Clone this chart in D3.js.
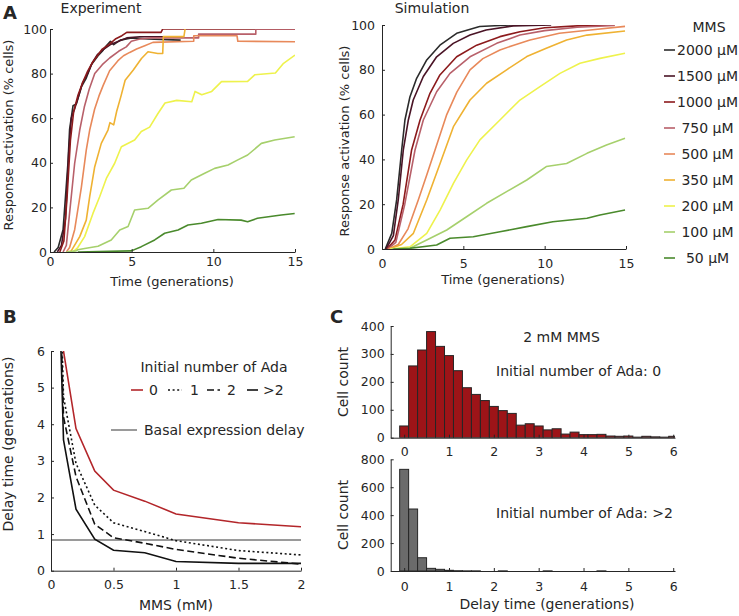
<!DOCTYPE html>
<html><head><meta charset="utf-8">
<script src="https://cdn.jsdelivr.net/npm/d3@7"></script>
<style>
body{margin:0;background:#fff}
svg{display:block}
text{font-family:"DejaVu Sans",Verdana,sans-serif;fill:#262626}
</style>
</head><body>
<svg id="c" width="739" height="616"></svg>
<script>
// ---------------- DATA ----------------
const mmsLabels = ["2000 μM", "1500 μM", "1000 μM", "750 μM", "500 μM", "350 μM", "200 μM", "100 μM", "50 μM"];
const mmsColors = ["#2b2b2b", "#4a1426", "#8c1a1c", "#b8606a", "#e8895a", "#efb232", "#eef24c", "#a6d06c", "#4a8a2c"];

// Experiment: [time (generations), response activation (%)]
const exp2000 = [[0.25,0],[0.5,2],[0.8,10],[1.1,40],[1.2,55],[1.41,65.6],[1.61,66.4],[1.92,74],[2.22,78],[2.53,84],[2.94,88],[3.2,90],[3.45,92.5],[3.7,94.5],[3.9,93],[4.3,95],[4.98,96],[6,95.5],[8,95]];
const exp1500 = [[0.45,0],[0.7,3],[0.95,15],[1.15,45],[1.3,60],[1.5,64],[1.75,70],[2.0,76],[2.3,80],[2.6,85],[2.9,88.5],[3.3,91],[3.7,93],[4.2,94.5],[4.7,96],[5.5,96.5],[7.5,96.5]];
const exp1000 = [[0.6,0],[0.85,5],[1.05,25],[1.25,50],[1.45,63],[1.7,70],[2.0,76],[2.3,81],[2.6,85],[2.9,88],[3.2,91],[3.6,93],[4.0,95.5],[4.4,97],[4.7,98.5],[6.8,98.5],[6.9,100],[15,100]];
const exp750 = [[0.8,0],[1.0,3],[1.2,17.5],[1.51,39.8],[1.82,54.7],[2.1,65],[2.4,73],[2.74,80],[3.2,84],[3.65,87],[4.2,90],[4.67,92],[4.98,94.5],[5.5,95.5],[6.2,96],[9.1,96],[9.1,97.7],[12.6,97.7],[12.6,100],[15,100]];
const exp500 = [[1.0,0],[1.2,2],[1.51,10],[1.92,29],[2.22,45.7],[2.43,54.7],[2.73,64],[3.0,70],[3.25,74.6],[3.65,81.3],[4.16,85.8],[4.5,88],[4.88,89.5],[5.3,91],[5.8,92.5],[6.3,94],[8.8,94.5],[8.8,97],[11.45,97],[11.5,94.5],[15,94.3]];
const exp350 = [[1.1,0],[1.3,0.5],[1.82,6.9],[2.22,14.3],[2.43,24.8],[2.73,38],[3.14,48.7],[3.55,54.7],[3.67,58],[3.9,57],[4.08,63],[4.35,70],[4.6,77],[5.1,81.6],[5.6,86.8],[6.0,89.8],[6.6,89],[6.9,89],[6.94,96.6],[8.2,96.6],[8.27,100]];
const exp200 = [[1.4,0],[1.7,2],[2.12,6.9],[2.63,17.3],[3.04,24.8],[3.45,33],[3.96,39.8],[4.37,47.2],[5.18,50.2],[5.59,54],[6.1,56],[6.6,62],[7.04,66.8],[7.76,68],[8.68,67.4],[8.88,72],[9.29,70.5],[9.9,72],[10.5,76.4],[12.1,76.5],[12.55,79.5],[13.8,80.3],[14.3,84.6],[15,88.3]];
const exp100 = [[1.0,0],[1.6,0.5],[1.7,1],[2.12,1.6],[2.94,2.6],[3.75,5.4],[4.27,9.9],[4.78,11.4],[5.18,18.8],[6.0,19.6],[6.6,23.3],[7.43,27.8],[8.2,28.6],[8.65,32.3],[9.47,35.3],[10.08,37.5],[10.9,39],[11.5,41.3],[12.1,43.5],[12.94,48.7],[13.76,50.2],[14.98,51.7]];
const exp50 = [[1.7,0],[4.98,0.5],[5.59,2.4],[6.41,5.4],[7.02,8.4],[7.84,9.9],[8.45,12.1],[9.27,12.9],[10.29,14.6],[11.7,14.3],[12.1,13.6],[12.7,15.1],[14.16,16.6],[14.98,17.3]];

// Simulation
const sim2000 = [[0.2,0],[0.6,7],[0.9,21.9],[1.21,44.2],[1.41,57.6],[1.72,68],[2.13,76.2],[2.75,84.4],[3.56,91],[4.59,96.3],[6.0,99.3],[7.9,100],[10.0,100]];
const sim1500 = [[0.25,0],[0.7,6],[1.0,22],[1.31,44.2],[1.62,57.6],[1.92,66.5],[2.54,77],[3.36,85.8],[4.38,91.8],[5.41,95.5],[6.4,97.8],[8.07,99.6],[10.4,100]];
const sim1000 = [[0.3,0],[0.8,4],[1.3,20],[1.82,44.2],[2.34,57.6],[2.95,69.5],[3.56,77.7],[4.59,85.8],[5.82,91],[7.25,94.8],[8.48,97],[10,98.8],[12,99.6],[14.3,100]];
const sim750 = [[0.35,0],[0.85,3],[1.4,20],[2.03,44.2],[2.54,57.6],[3.36,70.2],[4.18,78.4],[5.41,85.8],[7.05,91.8],[8.48,95.5],[10,97.5],[12,99],[14.3,99.8]];
const sim500 = [[0.4,0],[1.0,2],[1.6,9],[2.23,21.9],[2.75,33],[3.26,44.2],[3.98,60],[4.6,70],[5.41,80],[6.2,85],[7.25,88.8],[8.1,91],[9.1,93.3],[10.9,96.3],[12.8,97.8],[14.94,99.4]];
const sim350 = [[0.45,0],[1.2,2],[1.93,7],[2.75,21.9],[3.57,38.2],[4.39,54.6],[5.41,66.5],[6.43,74],[7.66,80],[8.9,85.9],[10.1,89.6],[11.35,93.3],[12.6,95.5],[14.94,97.3]];
const sim200 = [[0.5,0],[1.72,1],[2.75,7],[3.57,17.4],[4.39,29.3],[5.2,39.7],[6.02,48.7],[7.25,57.6],[8.48,66.5],[9.71,72.5],[10.94,78.4],[12.17,82.9],[13.4,85.1],[14.94,87.4]];
const sim100 = [[0.6,0],[1.72,0.3],[2.75,4],[3.98,8.5],[5.2,14.4],[6.43,20.4],[7.66,25.6],[8.9,30.8],[10.1,36.8],[11.35,38.2],[12.6,42.7],[13.8,46.4],[14.94,49.4]];
const sim50 = [[0.7,0],[1.72,0.3],[3.36,1.8],[4.18,4.8],[5.61,5.5],[7.25,7.7],[8.9,10],[10.5,12.2],[12.6,13.7],[13.4,15.2],[14.94,17.4]];

const expSeries = [exp2000, exp1500, exp1000, exp750, exp500, exp350, exp200, exp100, exp50];
const simSeries = [sim2000, sim1500, sim1000, sim750, sim500, sim350, sim200, sim100, sim50];
const timeTicks = [0, 5, 10, 15];
const pctTicks = [0, 20, 40, 60, 80, 100];

// Panel B: delay time vs MMS (mM)
const mmsB = [0.05, 0.1, 0.2, 0.35, 0.5, 0.75, 1, 1.5, 2];
const delayAda0 = [12, 6.0, 3.88, 2.72, 2.2, 1.9, 1.55, 1.31, 1.2];
const delayAda1 = [11, 4.75, 2.93, 1.79, 1.31, 1.07, 0.82, 0.55, 0.43];
const delayAda2 = [10.5, 4.2, 2.57, 1.27, 0.9, 0.75, 0.58, 0.34, 0.18];
const delayAdaGt2 = [9.6, 3.57, 1.68, 0.86, 0.56, 0.49, 0.25, 0.2, 0.2];
const basalDelay = 0.84;
const adaLabels = ["0", "1", "2", ">2"];
const mmsTicksB = [0, 0.5, 1, 1.5, 2];
const delayTicksB = [0, 1, 2, 3, 4, 5, 6];

// Panel C: histograms (bin centers 0, 0.2, ... 6.0)
const binCenters = d3.range(31).map(i => i * 0.2);
const countsAda0 = [42, 257, 314, 380, 327, 294, 240, 179, 155, 133, 112, 97, 87, 45, 50, 42, 28, 32, 13, 20, 11, 11, 12, 6, 5, 6, 2, 5, 3, 2, 5];
const countsAdaGt2 = [728, 444, 95, 19, 12, 5, 2, 1, 1, 0, 0, 1, 0, 0, 0, 0, 1, 0, 0, 0, 0, 0, 1, 0, 0, 0, 0, 0, 0, 0, 0];
const delayTicksC = [0, 1, 2, 3, 4, 5, 6];
const countTicksTop = [0, 100, 200, 300, 400];
const countTicksBot = [0, 200, 400, 600, 800];

// ---------------- DRAWING ----------------
const FONT = '"DejaVu Sans",Verdana,sans-serif';
const INK = "#262626";
const svg = d3.select("#c");

function axes(x, y, xTicks, yTicks, o) {
  const g = svg.append("g");
  const xa = d3.axisBottom(x).tickValues(xTicks).tickSizeInner(-3).tickSizeOuter(0)
    .tickPadding(o.xPad).tickFormat(o.xFmt || d3.format("~g"));
  const ya = d3.axisLeft(y).tickValues(yTicks).tickSizeInner(-3).tickSizeOuter(0)
    .tickPadding(o.yPad).tickFormat(o.yFmt || d3.format("~g"));
  const gx = g.append("g").attr("transform", `translate(0,${y.range()[0]})`).call(xa);
  const gy = g.append("g").attr("transform", `translate(${x.range()[0]},0)`).call(ya);
  [gx, gy].forEach(a => {
    a.attr("font-size", o.fs).attr("font-family", FONT).attr("color", INK);
    a.select(".domain").attr("stroke", INK).attr("stroke-width", 1);
    a.selectAll(".tick line").attr("stroke", INK);
  });
  return g;
}

function text(x, y, s, fs, anchor, extra) {
  const t = svg.append("text").attr("x", x).attr("y", y).attr("font-size", fs)
    .attr("text-anchor", anchor || "start").text(s);
  if (extra) extra(t);
  return t;
}
function vtext(x, y, s, fs) {
  return svg.append("text").attr("transform", `translate(${x},${y}) rotate(-90)`)
    .attr("font-size", fs).attr("text-anchor", "middle").text(s);
}

let clipId = 0;
function clipRect(x, y) {
  const id = "clip" + (clipId++);
  const r0 = x.range(), r1 = y.range();
  svg.append("clipPath").attr("id", id).append("rect")
    .attr("x", Math.min(...r0)).attr("y", Math.min(...r1))
    .attr("width", Math.abs(r0[1] - r0[0])).attr("height", Math.abs(r1[1] - r1[0]));
  return "url(#" + id + ")";
}

// ---- Panel A left: Experiment
{
  const x = d3.scaleLinear().domain([0, 15]).range([50, 295]);
  const y = d3.scaleLinear().domain([0, 100]).range([252, 29]);
  const line = d3.line().x(d => x(d[0])).y(d => y(d[1]));
  const g = svg.append("g").attr("clip-path", clipRect(x, y));
  expSeries.forEach((s, i) => {
    g.append("path").attr("d", line(s)).attr("fill", "none")
      .attr("stroke", mmsColors[i]).attr("stroke-width", 1.6).attr("stroke-linejoin", "round");
  });
  axes(x, y, timeTicks, pctTicks, {fs: 12.5, xPad: 5, yPad: 3});
  text(101, 13, "Experiment", 14, "middle");
  text(172, 286, "Time (generations)", 13, "middle");
  vtext(13, 135, "Response activation (% cells)", 13);
}

// ---- Panel A right: Simulation
{
  const x = d3.scaleLinear().domain([0, 15]).range([382, 626]);
  const y = d3.scaleLinear().domain([0, 100]).range([249, 25]);
  const line = d3.line().x(d => x(d[0])).y(d => y(d[1]));
  const g = svg.append("g").attr("clip-path", clipRect(x, y));
  simSeries.forEach((s, i) => {
    g.append("path").attr("d", line(s)).attr("fill", "none")
      .attr("stroke", mmsColors[i]).attr("stroke-width", 1.6).attr("stroke-linejoin", "round");
  });
  axes(x, y, timeTicks, pctTicks, {fs: 12.5, xPad: 10, yPad: 7});
  text(432, 13, "Simulation", 14, "middle");
  text(503, 284, "Time (generations)", 13, "middle");
  vtext(349, 141, "Response activation (% cells)", 13);

  // legend
  text(709, 32, "MMS", 14, "middle");
  const spaceW = 4.45;
  mmsLabels.forEach((lab, i) => {
    const yb = 55 + i * 26;
    svg.append("line").attr("x1", 664).attr("x2", 675).attr("y1", yb - 5).attr("y2", yb - 5)
      .attr("stroke", mmsColors[i]).attr("stroke-width", 1.6);
    const pad = (7 - lab.length) * spaceW;
    text(677 + pad, yb, lab, 14, "start");
  });
}

// ---- Panel B
{
  const x = d3.scaleLinear().domain([0, 2]).range([51, 301]);
  const y = d3.scaleLinear().domain([0, 6]).range([570.7, 351]);
  const cp = clipRect(x, y);
  const g = svg.append("g").attr("clip-path", cp);
  const line = d3.line().x((d, i) => x(mmsB[i])).y(d => y(d));
  g.append("line").attr("x1", x(0)).attr("x2", x(2)).attr("y1", y(basalDelay)).attr("y2", y(basalDelay))
    .attr("stroke", "#9a9a9a").attr("stroke-width", 2);
  const styles = [
    {data: delayAda0, color: "#b3262a", dash: null},
    {data: delayAda1, color: "#111", dash: "2,2.6"},
    {data: delayAda2, color: "#111", dash: "7,3.5"},
    {data: delayAdaGt2, color: "#111", dash: null}
  ];
  styles.forEach(s => {
    g.append("path").attr("d", line(s.data)).attr("fill", "none").attr("stroke", s.color)
      .attr("stroke-width", 1.6).attr("stroke-dasharray", s.dash);
  });
  axes(x, y, mmsTicksB, delayTicksB, {fs: 12.5, xPad: 9, yPad: 6});
  text(176, 610, "MMS (mM)", 14, "middle");
  vtext(13, 444, "Delay time (generations)", 14);

  text(214, 372, "Initial number of Ada", 14, "middle");
  const lx = [[131, 143, 149], [168, 182, 190], [207, 220, 227], [247, 258, 263]];
  styles.forEach((s, i) => {
    svg.append("line").attr("x1", lx[i][0]).attr("x2", lx[i][1]).attr("y1", 390).attr("y2", 390)
      .attr("stroke", s.color).attr("stroke-width", 1.6).attr("stroke-dasharray", s.dash);
    text(lx[i][2], 395, adaLabels[i], 14, "start");
  });
  svg.append("line").attr("x1", 111).attr("x2", 137).attr("y1", 430).attr("y2", 430)
    .attr("stroke", "#9a9a9a").attr("stroke-width", 2);
  text(144, 435, "Basal expression delay", 14, "start");
}

// ---- Panel C
function hist(yTop, yBot, yMax, counts, fill, yTicks, xPad) {
  const x = d3.scaleLinear().domain([-0.3, 6.04]).range([390.7, 675]);
  const y = d3.scaleLinear().domain([0, yMax]).range([yBot, yTop]);
  const g = svg.append("g").attr("clip-path", clipRect(x, y));
  g.selectAll("rect").data(counts).join("rect")
    .attr("x", (d, i) => x(binCenters[i] - 0.1))
    .attr("width", (d, i) => x(binCenters[i] + 0.1) - x(binCenters[i] - 0.1))
    .attr("y", d => y(d)).attr("height", d => y(0) - y(d))
    .attr("fill", fill).attr("stroke", "#262626").attr("stroke-width", 1);
  axes(x, y, delayTicksC, yTicks, {fs: 12.5, xPad: xPad, yPad: 6});
}
hist(326, 437.7, 400, countsAda0, "#9d1418", countTicksTop, 9);
hist(459.3, 571, 800, countsAdaGt2, "#6b6b6b", countTicksBot, 10.7);
text(561.5, 342, "2 mM MMS", 14, "middle");
text(496, 376, "Initial number of Ada: 0", 14, "start");
text(496, 518, "Initial number of Ada: >2", 14, "start");
vtext(348, 382, "Cell count", 14);
vtext(348, 515, "Cell count", 14);
text(547, 609, "Delay time (generations)", 14, "middle");

// panel letters
text(3, 19, "A", 18, "start", t => t.attr("font-weight", "bold"));
text(3, 323, "B", 18, "start", t => t.attr("font-weight", "bold"));
text(330, 323, "C", 18, "start", t => t.attr("font-weight", "bold"));
</script>
</body></html>
